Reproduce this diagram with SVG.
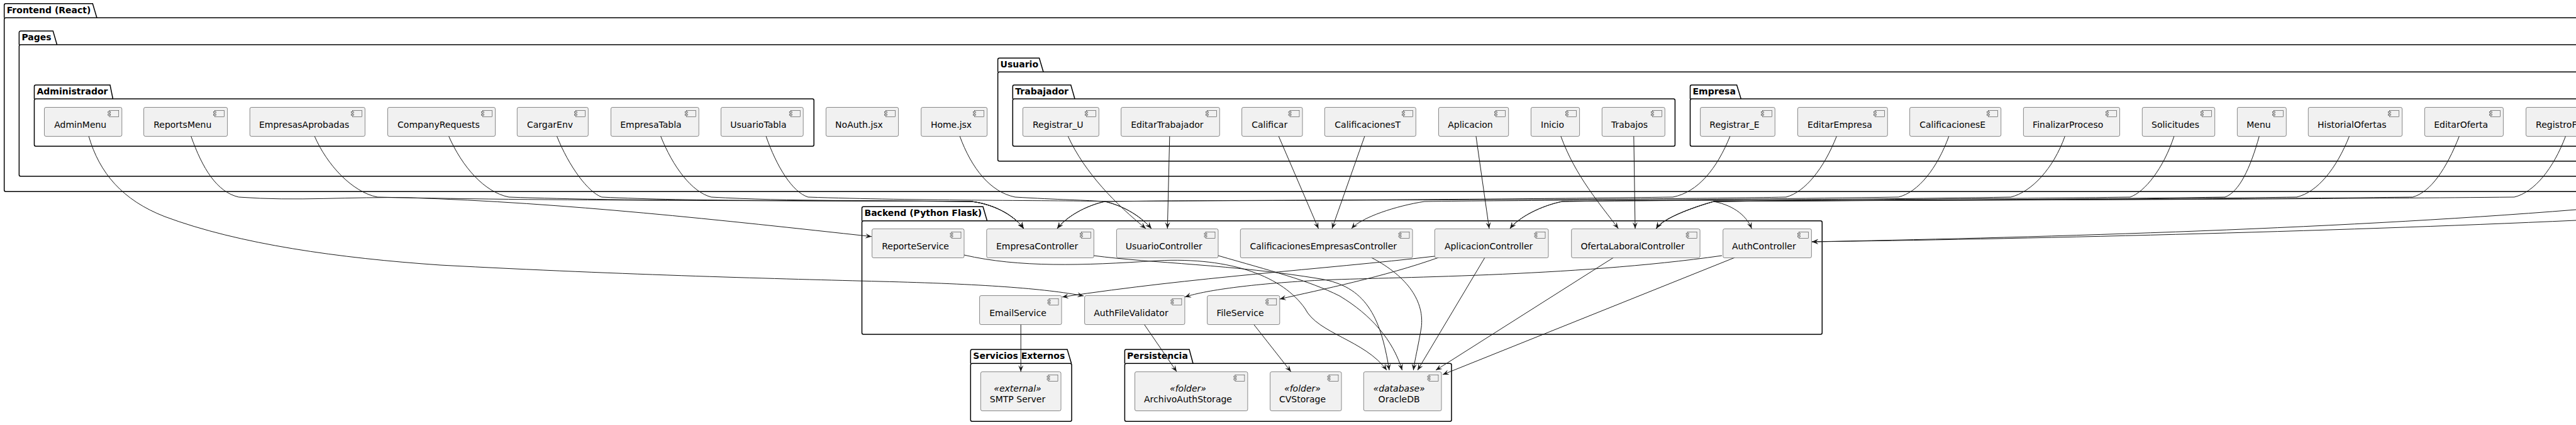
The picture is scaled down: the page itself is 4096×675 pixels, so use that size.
<svg xmlns="http://www.w3.org/2000/svg" width="4096" height="675" viewBox="0 0 4096 675">
<style>
.pk{fill:none;stroke:#000;stroke-width:1.5}
.pt{font-family:"DejaVu Sans","Liberation Sans",sans-serif;font-weight:bold;font-size:14px;fill:#000}
.cb{fill:#F1F1F1;stroke:#181818;stroke-width:0.5}
.ic{fill:#F1F1F1;stroke:#181818;stroke-width:0.5}
.ct{font-family:"DejaVu Sans","Liberation Sans",sans-serif;font-size:14px;fill:#000}
.sm{text-anchor:middle}
.st{font-style:italic}
.e{fill:none;stroke:#181818;stroke-width:1;marker-end:url(#ah)}
</style>
<defs>
<marker id="ah" markerWidth="12" markerHeight="10" refX="10" refY="5" orient="auto" markerUnits="userSpaceOnUse"><path d="M0,1 L10,5 L0,9 L4,5 Z" fill="#181818"/></marker>
</defs>
<rect width="4096" height="675" fill="#fff"/>
<g id="packages">
<g id="pkg-frontend"><path class="pk" d="M6.7,28.3 L6.7,8.2 A2.5,2.5 0 0 1 9.2,5.7 L147.3,5.7 L154,28.3"/><rect class="pk" x="6.7" y="28.3" width="4200" height="276" rx="2.5"/><text class="pt" x="10.7" y="20.7">Frontend (React)</text></g>
<g id="pkg-pages"><path class="pk" d="M30.4,71 L30.4,51.8 A2.5,2.5 0 0 1 32.9,49.3 L84.3,49.3 L90.6,71"/><rect class="pk" x="30.4" y="71" width="4200" height="209" rx="2.5"/><text class="pt" x="34.4" y="64.3">Pages</text></g>
<g id="pkg-admin"><path class="pk" d="M54.5,157 L54.5,137.5 A2.5,2.5 0 0 1 57,135 L175,135 L179.5,157"/><rect class="pk" x="54.5" y="157" width="1239.7" height="75.3" rx="2.5"/><text class="pt" x="58.5" y="150">Administrador</text></g>
<g id="pkg-usuario"><path class="pk" d="M1586.6,114.3 L1586.6,94.8 A2.5,2.5 0 0 1 1589.1,92.3 L1652.5,92.3 L1659,114.3"/><rect class="pk" x="1586.6" y="114.3" width="2700" height="141.7" rx="2.5"/><text class="pt" x="1590.6" y="107.3">Usuario</text></g>
<g id="pkg-trabajador"><path class="pk" d="M1610.3,157 L1610.3,137.5 A2.5,2.5 0 0 1 1612.8,135 L1702.7,135 L1709,157"/><rect class="pk" x="1610.3" y="157" width="1053.1" height="75.3" rx="2.5"/><text class="pt" x="1614.3" y="150">Trabajador</text></g>
<g id="pkg-empresa"><path class="pk" d="M2687.5,157 L2687.5,137.5 A2.5,2.5 0 0 1 2690,135 L2761.6,135 L2768.3,157"/><rect class="pk" x="2687.5" y="157" width="1600" height="75.3" rx="2.5"/><text class="pt" x="2691.5" y="150">Empresa</text></g>
<g id="pkg-backend"><path class="pk" d="M1370.5,350.7 L1370.5,330.8 A2.5,2.5 0 0 1 1373,328.3 L1563,328.3 L1569.6,350.7"/><rect class="pk" x="1370.5" y="350.7" width="1526.8" height="180.3" rx="2.5"/><text class="pt" x="1374.5" y="343.3">Backend (Python Flask)</text></g>
<g id="pkg-externos"><path class="pk" d="M1543.3,577.3 L1543.3,557.5 A2.5,2.5 0 0 1 1545.8,555 L1697,555 L1703.6,577.3"/><rect class="pk" x="1543.3" y="577.3" width="160.7" height="92" rx="2.5"/><text class="pt" x="1547.3" y="570">Servicios Externos</text></g>
<g id="pkg-persistencia"><path class="pk" d="M1788.4,577.3 L1788.4,557.5 A2.5,2.5 0 0 1 1790.9,555 L1891,555 L1897,577.3"/><rect class="pk" x="1788.4" y="577.3" width="519.6" height="92" rx="2.5"/><text class="pt" x="1792" y="570">Persistencia</text></g>
</g>
<g id="connectors">
<path class="e" d="M141,216 C158,275 195,318 262,344 C380,388 540,410 700,421 C1000,437 1250,443 1400,447 C1560,451 1660,458 1723,470"/>
<path class="e" d="M303.6,216 C322,268 345,305 379.5,313 C470,320 560,312 650,314 C900,322 1150,350 1386,375.7"/>
<path class="e" d="M500,216 C520,262 560,305 600,313 C900,320 1300,318 1545,320 C1585,325 1615,345 1627.7,363"/>
<path class="e" d="M713.4,216 C735,265 770,305 809,313 C1000,320 1300,318 1545,320 C1585,325 1615,345 1627.7,363"/>
<path class="e" d="M885.3,216 C905,265 935,305 956.7,313 C1100,320 1300,318 1545,320 C1585,325 1615,345 1627.7,363"/>
<path class="e" d="M1050.4,216 C1070,265 1100,305 1130.8,313 C1250,320 1400,318 1545,320 C1585,325 1615,345 1627.7,363"/>
<path class="e" d="M1217.9,216 C1235,265 1260,305 1284.8,313 C1450,319 1700,318 1757,320 C1790,328 1815,345 1830.8,363"/>
<path class="e" d="M1526,216 C1545,268 1575,305 1614,313 C1680,317 1730,318 1757,320 C1790,328 1815,345 1830.8,363"/>
<path class="e" d="M1698,216 C1725,275 1775,325 1821.9,363"/>
<path class="e" d="M1859.8,216 L1856.3,363"/>
<path class="e" d="M2033,216 L2096.4,363"/>
<path class="e" d="M2170,216 L2118,363"/>
<path class="e" d="M2346.9,216 L2367.9,363"/>
<path class="e" d="M2481.7,216 C2505,280 2545,325 2573.2,363"/>
<path class="e" d="M2597.8,216 L2600,363"/>
<path class="e" d="M2751,216 C2730,268 2700,305 2660,313 C2300,318 1900,318 1757,320 C1725,327 1695,345 1681,363"/>
<path class="e" d="M2920.5,216 C2900,268 2870,305 2840,313 C2600,318 1900,318 1757,320 C1725,327 1695,345 1681,363"/>
<path class="e" d="M3099,216 C3080,268 3050,305 3018.8,313 C2700,318 2400,318 2265,320 C2220,327 2165,345 2149,363"/>
<path class="e" d="M3283.5,216 C3265,268 3230,305 3197.3,313 C2900,318 2600,318 2484,320 C2450,327 2415,345 2401,363"/>
<path class="e" d="M3457,216 C3440,268 3410,305 3387,313 C3000,318 2600,318 2484,320 C2450,327 2415,345 2401,363"/>
<path class="e" d="M3592.4,216 C3578,268 3560,305 3538,313 C3200,318 2900,318 2725,320 C2760,327 2778,345 2785.3,363"/>
<path class="e" d="M3735.7,216 C3715,268 3685,305 3652,313 C3300,318 2900,318 2725,320 C2700,327 2645,345 2633.5,363"/>
<path class="e" d="M3910.5,216 C3890,268 3865,305 3836.4,313 C3400,318 2900,318 2725,320 C2700,327 2645,345 2633.5,363"/>
<path class="e" d="M4079.6,216 C4060,268 4030,305 3997.9,313 C3500,318 2900,318 2725,320 C2700,327 2645,345 2633.5,363"/>
<path class="e" d="M4096,333 C3700,365 3200,378 2881,384"/>
<path class="e" d="M4096,350 C3700,368 3200,380 2881,384"/>
<path class="e" d="M1533,405 C1620,425 1720,422 1840,414 C1960,408 2040,440 2075,490 C2095,530 2170,540 2205,588"/>
<path class="e" d="M1739,406 C1830,418 1960,420 2100,443 C2170,455 2195,500 2209,588"/>
<path class="e" d="M1937,406 C2020,430 2080,445 2130,470 C2180,500 2215,540 2229.5,588"/>
<path class="e" d="M2180.4,409 C2240,440 2265,480 2260,520 C2255,550 2250,570 2247.3,588"/>
<path class="e" d="M2361,409 L2254,588"/>
<path class="e" d="M2565.6,409 L2283,588"/>
<path class="e" d="M2758.5,409 L2294,595"/>
<path class="e" d="M2281,407 C2100,428 1900,440 1689,471.7"/>
<path class="e" d="M2287.5,409 C2200,440 2100,460 2034.8,475"/>
<path class="e" d="M2738,406 C2500,440 2200,440 2100,445 C2000,450 1920,460 1884,471.7"/>
<path class="e" d="M1623.2,515.5 L1623.2,590.3"/>
<path class="e" d="M1819.6,515.5 L1871,590.3"/>
<path class="e" d="M1993.8,515.5 L2052.7,590.3"/>
</g>
<g id="n-AdminMenu"><rect class="cb" x="70.5" y="170.5" width="123.3" height="46" rx="2.5"/><rect class="ic" x="173.8" y="175.5" width="15" height="10"/><rect class="ic" x="171.8" y="177.5" width="4" height="2"/><rect class="ic" x="171.8" y="181.5" width="4" height="2"/><text class="ct" x="86.2" y="203.3">AdminMenu</text></g>
<g id="n-ReportsMenu"><rect class="cb" x="228.6" y="170.5" width="133" height="46" rx="2.5"/><rect class="ic" x="341.6" y="175.5" width="15" height="10"/><rect class="ic" x="339.6" y="177.5" width="4" height="2"/><rect class="ic" x="339.6" y="181.5" width="4" height="2"/><text class="ct" x="244.2" y="203.3">ReportsMenu</text></g>
<g id="n-EmpresasAprobadas"><rect class="cb" x="397.3" y="170.5" width="183.1" height="46" rx="2.5"/><rect class="ic" x="560.4" y="175.5" width="15" height="10"/><rect class="ic" x="558.4" y="177.5" width="4" height="2"/><rect class="ic" x="558.4" y="181.5" width="4" height="2"/><text class="ct" x="412" y="203.3">EmpresasAprobadas</text></g>
<g id="n-CompanyRequests"><rect class="cb" x="616.5" y="170.5" width="171" height="46" rx="2.5"/><rect class="ic" x="767.5" y="175.5" width="15" height="10"/><rect class="ic" x="765.5" y="177.5" width="4" height="2"/><rect class="ic" x="765.5" y="181.5" width="4" height="2"/><text class="ct" x="632.1" y="203.3">CompanyRequests</text></g>
<g id="n-CargarEnv"><rect class="cb" x="822.3" y="170.5" width="113" height="46" rx="2.5"/><rect class="ic" x="915.3" y="175.5" width="15" height="10"/><rect class="ic" x="913.3" y="177.5" width="4" height="2"/><rect class="ic" x="913.3" y="181.5" width="4" height="2"/><text class="ct" x="838" y="203.3">CargarEnv</text></g>
<g id="n-EmpresaTabla"><rect class="cb" x="971.4" y="170.5" width="139.8" height="46" rx="2.5"/><rect class="ic" x="1091.2" y="175.5" width="15" height="10"/><rect class="ic" x="1089.2" y="177.5" width="4" height="2"/><rect class="ic" x="1089.2" y="181.5" width="4" height="2"/><text class="ct" x="986.2" y="203.3">EmpresaTabla</text></g>
<g id="n-UsuarioTabla"><rect class="cb" x="1146.4" y="170.5" width="130.8" height="46" rx="2.5"/><rect class="ic" x="1257.2" y="175.5" width="15" height="10"/><rect class="ic" x="1255.2" y="177.5" width="4" height="2"/><rect class="ic" x="1255.2" y="181.5" width="4" height="2"/><text class="ct" x="1161.2" y="203.3">UsuarioTabla</text></g>
<g id="n-NoAuth"><rect class="cb" x="1313.4" y="170.5" width="115.2" height="46" rx="2.5"/><rect class="ic" x="1408.6" y="175.5" width="15" height="10"/><rect class="ic" x="1406.6" y="177.5" width="4" height="2"/><rect class="ic" x="1406.6" y="181.5" width="4" height="2"/><text class="ct" x="1328.1" y="203.3">NoAuth.jsx</text></g>
<g id="n-Home"><rect class="cb" x="1464.7" y="170.5" width="104.9" height="46" rx="2.5"/><rect class="ic" x="1549.6" y="175.5" width="15" height="10"/><rect class="ic" x="1547.6" y="177.5" width="4" height="2"/><rect class="ic" x="1547.6" y="181.5" width="4" height="2"/><text class="ct" x="1479.9" y="203.3">Home.jsx</text></g>
<g id="n-Registrar_U"><rect class="cb" x="1626.3" y="170.5" width="121" height="46" rx="2.5"/><rect class="ic" x="1727.3" y="175.5" width="15" height="10"/><rect class="ic" x="1725.3" y="177.5" width="4" height="2"/><rect class="ic" x="1725.3" y="181.5" width="4" height="2"/><text class="ct" x="1642" y="203.3">Registrar_U</text></g>
<g id="n-EditarTrabajador"><rect class="cb" x="1782.6" y="170.5" width="156.7" height="46" rx="2.5"/><rect class="ic" x="1919.3" y="175.5" width="15" height="10"/><rect class="ic" x="1917.3" y="177.5" width="4" height="2"/><rect class="ic" x="1917.3" y="181.5" width="4" height="2"/><text class="ct" x="1798.2" y="203.3">EditarTrabajador</text></g>
<g id="n-Calificar"><rect class="cb" x="1974.6" y="170.5" width="96.4" height="46" rx="2.5"/><rect class="ic" x="2051" y="175.5" width="15" height="10"/><rect class="ic" x="2049" y="177.5" width="4" height="2"/><rect class="ic" x="2049" y="181.5" width="4" height="2"/><text class="ct" x="1990.2" y="203.3">Calificar</text></g>
<g id="n-CalificacionesT"><rect class="cb" x="2106.3" y="170.5" width="145" height="46" rx="2.5"/><rect class="ic" x="2231.3" y="175.5" width="15" height="10"/><rect class="ic" x="2229.3" y="177.5" width="4" height="2"/><rect class="ic" x="2229.3" y="181.5" width="4" height="2"/><text class="ct" x="2122.3" y="203.3">CalificacionesT</text></g>
<g id="n-Aplicacion"><rect class="cb" x="2287.5" y="170.5" width="111.2" height="46" rx="2.5"/><rect class="ic" x="2378.7" y="175.5" width="15" height="10"/><rect class="ic" x="2376.7" y="177.5" width="4" height="2"/><rect class="ic" x="2376.7" y="181.5" width="4" height="2"/><text class="ct" x="2302.2" y="203.3">Aplicacion</text></g>
<g id="n-Inicio"><rect class="cb" x="2434.4" y="170.5" width="77.2" height="46" rx="2.5"/><rect class="ic" x="2491.6" y="175.5" width="15" height="10"/><rect class="ic" x="2489.6" y="177.5" width="4" height="2"/><rect class="ic" x="2489.6" y="181.5" width="4" height="2"/><text class="ct" x="2450" y="203.3">Inicio</text></g>
<g id="n-Trabajos"><rect class="cb" x="2547.3" y="170.5" width="100" height="46" rx="2.5"/><rect class="ic" x="2627.3" y="175.5" width="15" height="10"/><rect class="ic" x="2625.3" y="177.5" width="4" height="2"/><rect class="ic" x="2625.3" y="181.5" width="4" height="2"/><text class="ct" x="2562" y="203.3">Trabajos</text></g>
<g id="n-Registrar_E"><rect class="cb" x="2703.6" y="170.5" width="118.7" height="46" rx="2.5"/><rect class="ic" x="2802.3" y="175.5" width="15" height="10"/><rect class="ic" x="2800.3" y="177.5" width="4" height="2"/><rect class="ic" x="2800.3" y="181.5" width="4" height="2"/><text class="ct" x="2718.3" y="203.3">Registrar_E</text></g>
<g id="n-EditarEmpresa"><rect class="cb" x="2858.5" y="170.5" width="142.8" height="46" rx="2.5"/><rect class="ic" x="2981.3" y="175.5" width="15" height="10"/><rect class="ic" x="2979.3" y="177.5" width="4" height="2"/><rect class="ic" x="2979.3" y="181.5" width="4" height="2"/><text class="ct" x="2874.1" y="203.3">EditarEmpresa</text></g>
<g id="n-CalificacionesE"><rect class="cb" x="3036.6" y="170.5" width="145.1" height="46" rx="2.5"/><rect class="ic" x="3161.7" y="175.5" width="15" height="10"/><rect class="ic" x="3159.7" y="177.5" width="4" height="2"/><rect class="ic" x="3159.7" y="181.5" width="4" height="2"/><text class="ct" x="3052.2" y="203.3">CalificacionesE</text></g>
<g id="n-FinalizarProceso"><rect class="cb" x="3217.4" y="170.5" width="153.1" height="46" rx="2.5"/><rect class="ic" x="3350.5" y="175.5" width="15" height="10"/><rect class="ic" x="3348.5" y="177.5" width="4" height="2"/><rect class="ic" x="3348.5" y="181.5" width="4" height="2"/><text class="ct" x="3232.1" y="203.3">FinalizarProceso</text></g>
<g id="n-Solicitudes"><rect class="cb" x="3406.3" y="170.5" width="115.4" height="46" rx="2.5"/><rect class="ic" x="3501.7" y="175.5" width="15" height="10"/><rect class="ic" x="3499.7" y="177.5" width="4" height="2"/><rect class="ic" x="3499.7" y="181.5" width="4" height="2"/><text class="ct" x="3421" y="203.3">Solicitudes</text></g>
<g id="n-Menu"><rect class="cb" x="3557.4" y="170.5" width="77.9" height="46" rx="2.5"/><rect class="ic" x="3615.3" y="175.5" width="15" height="10"/><rect class="ic" x="3613.3" y="177.5" width="4" height="2"/><rect class="ic" x="3613.3" y="181.5" width="4" height="2"/><text class="ct" x="3572.2" y="203.3">Menu</text></g>
<g id="n-HistorialOfertas"><rect class="cb" x="3670.3" y="170.5" width="149.3" height="46" rx="2.5"/><rect class="ic" x="3799.6" y="175.5" width="15" height="10"/><rect class="ic" x="3797.6" y="177.5" width="4" height="2"/><rect class="ic" x="3797.6" y="181.5" width="4" height="2"/><text class="ct" x="3685.1" y="203.3">HistorialOfertas</text></g>
<g id="n-EditarOferta"><rect class="cb" x="3855.4" y="170.5" width="125" height="46" rx="2.5"/><rect class="ic" x="3960.4" y="175.5" width="15" height="10"/><rect class="ic" x="3958.4" y="177.5" width="4" height="2"/><rect class="ic" x="3958.4" y="181.5" width="4" height="2"/><text class="ct" x="3870.2" y="203.3">EditarOferta</text></g>
<g id="n-RegistroF"><rect class="cb" x="4016.5" y="170.5" width="150" height="46" rx="2.5"/><text class="ct" x="4032.1" y="203.3">RegistroF</text></g>
<g id="n-ReporteService"><rect class="cb" x="1386.6" y="363.5" width="146.4" height="46" rx="2.5"/><rect class="ic" x="1513" y="368.5" width="15" height="10"/><rect class="ic" x="1511" y="370.5" width="4" height="2"/><rect class="ic" x="1511" y="374.5" width="4" height="2"/><text class="ct" x="1402.2" y="396.3">ReporteService</text></g>
<g id="n-EmpresaController"><rect class="cb" x="1568.8" y="363.5" width="170.5" height="46" rx="2.5"/><rect class="ic" x="1719.3" y="368.5" width="15" height="10"/><rect class="ic" x="1717.3" y="370.5" width="4" height="2"/><rect class="ic" x="1717.3" y="374.5" width="4" height="2"/><text class="ct" x="1584" y="396.3">EmpresaController</text></g>
<g id="n-UsuarioController"><rect class="cb" x="1775.4" y="363.5" width="161.6" height="46" rx="2.5"/><rect class="ic" x="1917" y="368.5" width="15" height="10"/><rect class="ic" x="1915" y="370.5" width="4" height="2"/><rect class="ic" x="1915" y="374.5" width="4" height="2"/><text class="ct" x="1789.7" y="396.3">UsuarioController</text></g>
<g id="n-CalificacionesEmpresasController"><rect class="cb" x="1972.3" y="363.5" width="273.7" height="46" rx="2.5"/><rect class="ic" x="2226" y="368.5" width="15" height="10"/><rect class="ic" x="2224" y="370.5" width="4" height="2"/><rect class="ic" x="2224" y="374.5" width="4" height="2"/><text class="ct" x="1987.5" y="396.3">CalificacionesEmpresasController</text></g>
<g id="n-AplicacionController"><rect class="cb" x="2281.3" y="363.5" width="180.7" height="46" rx="2.5"/><rect class="ic" x="2442" y="368.5" width="15" height="10"/><rect class="ic" x="2440" y="370.5" width="4" height="2"/><rect class="ic" x="2440" y="374.5" width="4" height="2"/><text class="ct" x="2296.9" y="396.3">AplicacionController</text></g>
<g id="n-OfertaLaboralController"><rect class="cb" x="2498.7" y="363.5" width="204.4" height="46" rx="2.5"/><rect class="ic" x="2683.1" y="368.5" width="15" height="10"/><rect class="ic" x="2681.1" y="370.5" width="4" height="2"/><rect class="ic" x="2681.1" y="374.5" width="4" height="2"/><text class="ct" x="2513.4" y="396.3">OfertaLaboralController</text></g>
<g id="n-AuthController"><rect class="cb" x="2739.7" y="363.5" width="140.7" height="46" rx="2.5"/><rect class="ic" x="2860.4" y="368.5" width="15" height="10"/><rect class="ic" x="2858.4" y="370.5" width="4" height="2"/><rect class="ic" x="2858.4" y="374.5" width="4" height="2"/><text class="ct" x="2754" y="396.3">AuthController</text></g>
<g id="n-EmailService"><rect class="cb" x="1557.6" y="469.5" width="130.4" height="46" rx="2.5"/><rect class="ic" x="1668" y="474.5" width="15" height="10"/><rect class="ic" x="1666" y="476.5" width="4" height="2"/><rect class="ic" x="1666" y="480.5" width="4" height="2"/><text class="ct" x="1573.2" y="502.3">EmailService</text></g>
<g id="n-AuthFileValidator"><rect class="cb" x="1724.6" y="469.5" width="159.3" height="46" rx="2.5"/><rect class="ic" x="1863.9" y="474.5" width="15" height="10"/><rect class="ic" x="1861.9" y="476.5" width="4" height="2"/><rect class="ic" x="1861.9" y="480.5" width="4" height="2"/><text class="ct" x="1739.3" y="502.3">AuthFileValidator</text></g>
<g id="n-FileService"><rect class="cb" x="1919.6" y="469.5" width="115.2" height="46" rx="2.5"/><rect class="ic" x="2014.8" y="474.5" width="15" height="10"/><rect class="ic" x="2012.8" y="476.5" width="4" height="2"/><rect class="ic" x="2012.8" y="480.5" width="4" height="2"/><text class="ct" x="1934.4" y="502.3">FileService</text></g>
<g id="n-SMTP"><rect class="cb" x="1559.4" y="590.5" width="127.6" height="62" rx="2.5"/><rect class="ic" x="1667" y="595.5" width="15" height="10"/><rect class="ic" x="1665" y="597.5" width="4" height="2"/><rect class="ic" x="1665" y="601.5" width="4" height="2"/><text class="ct sm st" x="1618" y="622">«external»</text><text class="ct sm" x="1618" y="638.5">SMTP Server</text></g>
<g id="n-ArchivoAuthStorage"><rect class="cb" x="1804.5" y="590.5" width="179.4" height="62" rx="2.5"/><rect class="ic" x="1963.9" y="595.5" width="15" height="10"/><rect class="ic" x="1961.9" y="597.5" width="4" height="2"/><rect class="ic" x="1961.9" y="601.5" width="4" height="2"/><text class="ct sm st" x="1889" y="622">«folder»</text><text class="ct sm" x="1889" y="638.5">ArchivoAuthStorage</text></g>
<g id="n-CVStorage"><rect class="cb" x="2019.6" y="590.5" width="113.4" height="62" rx="2.5"/><rect class="ic" x="2113" y="595.5" width="15" height="10"/><rect class="ic" x="2111" y="597.5" width="4" height="2"/><rect class="ic" x="2111" y="601.5" width="4" height="2"/><text class="ct sm st" x="2071" y="622">«folder»</text><text class="ct sm" x="2071" y="638.5">CVStorage</text></g>
<g id="n-OracleDB"><rect class="cb" x="2168.3" y="590.5" width="123.7" height="62" rx="2.5"/><rect class="ic" x="2272" y="595.5" width="15" height="10"/><rect class="ic" x="2270" y="597.5" width="4" height="2"/><rect class="ic" x="2270" y="601.5" width="4" height="2"/><text class="ct sm st" x="2224.6" y="622">«database»</text><text class="ct sm" x="2224.6" y="638.5">OracleDB</text></g>
</svg>
